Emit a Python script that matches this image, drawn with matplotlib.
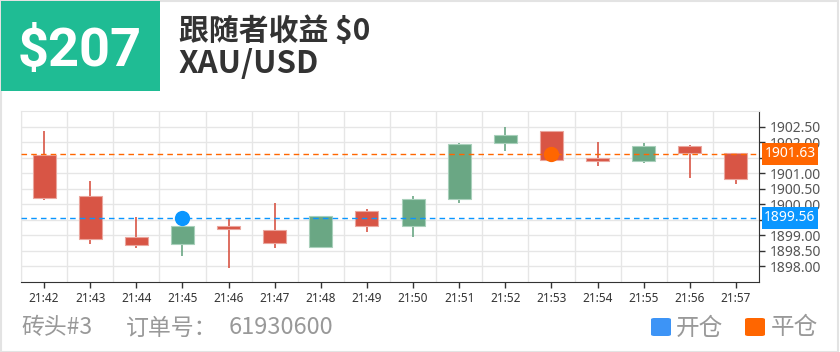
import matplotlib
matplotlib.use('Agg')
import matplotlib.pyplot as plt
from matplotlib.patches import Rectangle, FancyBboxPatch
from matplotlib.ticker import FuncFormatter
import numpy as np

plt.rcParams['font.family'] = ['Noto Sans CJK SC', 'DejaVu Sans']

# candle data
times = ['21:42', '21:43', '21:44', '21:45', '21:46', '21:47', '21:48', '21:49',
         '21:50', '21:51', '21:52', '21:53', '21:54', '21:55', '21:56', '21:57']
opens = [1901.59, 1900.27, 1898.96, 1898.72, 1899.30, 1899.17, 1898.62, 1899.77,
         1899.29, 1900.17, 1901.98, 1902.36, 1901.49, 1901.39, 1901.86, 1901.65]
closes = [1900.21, 1898.88, 1898.69, 1899.31, 1899.22, 1898.75, 1899.61, 1899.30,
          1900.17, 1901.95, 1902.24, 1901.42, 1901.40, 1901.87, 1901.64, 1900.82]
highs = [1902.37, 1900.76, 1899.58, 1899.31, 1899.53, 1900.03, 1899.61, 1899.85,
         1900.26, 1901.98, 1902.50, 1902.36, 1901.99, 1901.97, 1901.91, 1901.65]
lows = [1900.13, 1898.73, 1898.59, 1898.34, 1897.96, 1898.59, 1898.62, 1899.12,
        1898.96, 1900.05, 1901.70, 1901.42, 1901.23, 1901.34, 1900.86, 1900.64]

open_price = 1899.56
close_price = 1901.63
open_idx = 3
close_idx = 11
yticks = [1898.0, 1898.5, 1899.0, 1899.5, 1900.0, 1900.5, 1901.0, 1901.5, 1902.0, 1902.5]
hidden_ticks = [1899.5, 1901.5]  # covered by the price tags

profit = '$207'
follower_text = '跟随者收益 $0'
symbol = 'XAU/USD'
brick = '砖头#3'
order_label = '订单号：'
order_no = '61930600'
legend_labels = ['开仓', '平仓']

UP = '#6aa784'
DOWN = '#d85545'
ORANGE = '#ff6600'
BLUE = '#0a96ff'
W, H = 840, 352


def fx(px):
    return px / W


def fy(py):
    return 1 - py / H


fig = plt.figure(figsize=(8.4, 3.52), dpi=100)

# outer frame
fig.patches.append(Rectangle((0.0006, 0.001), 0.9976, 0.996, transform=fig.transFigure,
                             fill=False, ec='#e3e3e3', lw=1.5))
# green header box
fig.patches.append(Rectangle((fx(1), fy(91)), fx(159), 90 / H, transform=fig.transFigure,
                             fc='#1fbc94', ec='none'))
fig.text(fx(80), fy(51), profit, color='white', fontsize=39, fontweight='bold',
         family=['Roboto', 'DejaVu Sans'], ha='center', va='center')
fig.text(fx(179), fy(31), follower_text, color='#333333', fontsize=21.5,
         fontweight='bold', ha='left', va='center')
fig.text(fx(179), fy(64), symbol, color='#333333', fontsize=22.5,
         fontweight='bold', ha='left', va='center')

# footer
fig.text(fx(21), fy(328), brick, color='#999999', fontsize=16.5, ha='left', va='center')
fig.text(fx(126), fy(328), order_label, color='#999999', fontsize=16.5, ha='left', va='center')
fig.text(fx(229), fy(328), order_no, color='#999999', fontsize=17, ha='left', va='center')
for lx, tx, lab, col in [(651, 676, legend_labels[0], '#3d94f6'),
                         (745, 771, legend_labels[1], ORANGE)]:
    fig.patches.append(FancyBboxPatch((fx(lx), fy(336)), fx(20), 18 / H,
                                      boxstyle='round,pad=0,rounding_size=0.004',
                                      transform=fig.transFigure, fc=col, ec='none'))
    fig.text(fx(tx), fy(328), lab, color='#999999', fontsize=17, ha='left', va='center')

# candle chart
ax = fig.add_axes([fx(21), fy(282), fx(738), 171 / H])
x = np.arange(len(times))
o = np.array(opens)
c = np.array(closes)
colors = [UP if cc >= oo else DOWN for oo, cc in zip(o, c)]
edge = ['#a9d0bb' if cc >= oo else '#eaa69e' for oo, cc in zip(o, c)]
ax.vlines(x, lows, highs, colors=colors, lw=1.2, zorder=2)
ax.bar(x, np.abs(c - o), bottom=np.minimum(o, c), width=0.5, color=colors,
       edgecolor=edge, linewidth=0.8, zorder=3)

ax.axhline(close_price, color=ORANGE, lw=1, ls=(0, (4, 3)), zorder=4)
ax.axhline(open_price, color=BLUE, lw=1, ls=(0, (4, 3)), zorder=4)
ax.plot([open_idx], [open_price], 'o', color=BLUE, ms=11, mec='none', zorder=5)
ax.plot([close_idx], [close_price], 'o', color=ORANGE, ms=11, mec='none', zorder=5)

ax.set_xlim(-0.5, len(times) - 0.5)
ax.set_ylim(1897.5, 1903.0)
ax.set_xticks(x)
ax.set_xticklabels(times)
ax.set_xticks(np.arange(-0.5, len(times), 1.0), minor=True)
ax.set_yticks(yticks)
ax.yaxis.set_major_formatter(FuncFormatter(
    lambda v, pos: '' if any(abs(v - h) < 1e-6 for h in hidden_ticks) else '%.2f' % v))
ax.yaxis.tick_right()
ax.tick_params(axis='x', which='major', length=4, width=1, color='#333333', pad=3,
               labelsize=8.5, labelcolor='#333333')
ax.tick_params(axis='x', which='minor', length=0)
ax.tick_params(axis='y', length=4, width=1, color='#333333', pad=4,
               labelsize=10, labelcolor='#555555')
for lab in ax.get_xticklabels() + ax.get_yticklabels():
    lab.set_family(['Noto Sans', 'DejaVu Sans'])
ax.grid(True, axis='y', color='#e6e6e6', lw=1, zorder=0)
ax.grid(True, axis='x', which='minor', color='#e6e6e6', lw=1, zorder=0)
ax.set_axisbelow(True)
for side in ['top', 'left']:
    ax.spines[side].set_color('#e6e6e6')
ax.spines['bottom'].set_color('#333333')
ax.spines['right'].set_color('#333333')

# price tags on the right axis
tf = ax.get_yaxis_transform()
for val, col in [(close_price, ORANGE), (open_price, BLUE)]:
    ax.add_patch(Rectangle((1.004, val - 0.355), 0.0759, 0.71, transform=tf,
                           fc=col, ec='none', clip_on=False, zorder=10))
    ax.text(1.004 + 0.0759 / 2, val, '%.2f' % val, transform=tf, color='white',
            fontsize=10, family=['Noto Sans', 'DejaVu Sans'], ha='center',
            va='center', zorder=11, clip_on=False)

fig.savefig('out.png', dpi=100)
